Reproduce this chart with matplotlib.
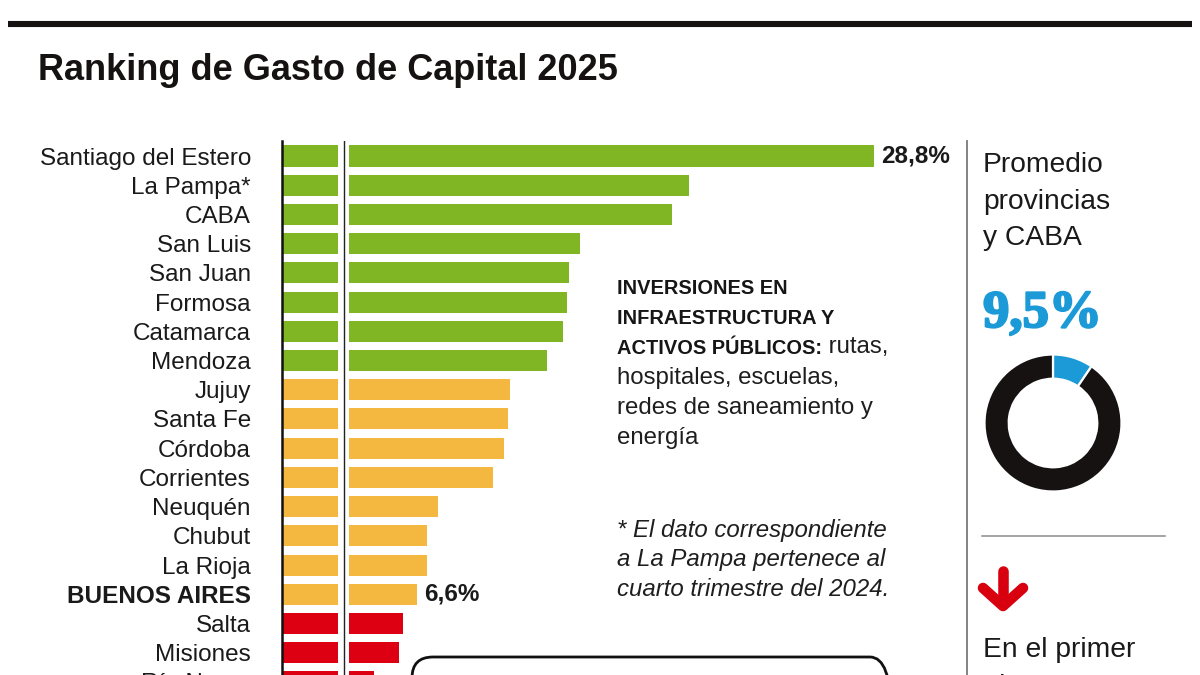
import matplotlib
matplotlib.use("Agg")
import matplotlib.pyplot as plt
import matplotlib.patheffects as pe
from matplotlib.lines import Line2D
from matplotlib.patches import FancyBboxPatch
from matplotlib.transforms import Affine2D

# ---------------- data ----------------
provincias = ["Santiago del Estero", "La Pampa*", "CABA", "San Luis", "San Juan",
              "Formosa", "Catamarca", "Mendoza", "Jujuy", "Santa Fe", "Córdoba",
              "Corrientes", "Neuquén", "Chubut", "La Rioja", "BUENOS AIRES",
              "Salta", "Misiones", "Río Negro"]
gasto = [28.8, 19.8, 19.0, 14.5, 14.0, 13.9, 13.7, 12.9, 11.1, 11.0, 10.8,
         10.3, 7.6, 7.1, 7.1, 6.6, 5.9, 5.7, 4.5]
tramo = ["alto", "alto", "alto", "alto", "alto", "alto", "alto", "alto",
         "medio", "medio", "medio", "medio", "medio", "medio", "medio", "medio",
         "bajo", "bajo", "bajo"]
con_etiqueta = ["Santiago del Estero", "BUENOS AIRES"]
destacada = "BUENOS AIRES"
promedio = 9.5

titulo = "Ranking de Gasto de Capital 2025"
colores_tramo = {"alto": "#80b524", "medio": "#f4b740", "bajo": "#dc0012"}
azul = "#1b9ad7"
negro = "#161212"

# ---------------- figure ----------------
plt.rcParams["font.family"] = ["Liberation Sans", "DejaVu Sans"]
W, H = 1200, 675
fig = plt.figure(figsize=(W / 100, H / 100), dpi=100)
fig.patch.set_facecolor("white")
pix = Affine2D().scale(1 / W, 1 / H) + fig.transFigure  # pixel coords, origin bottom-left


def fy(py):
    return H - py


# top rule
fig.add_artist(Line2D([8, 1192], [fy(23.5), fy(23.5)], transform=pix,
                      color=negro, lw=4.4, solid_capstyle="butt"))
# title
fig.text(38, fy(80), titulo, transform=pix, fontsize=26, fontweight="bold",
         color=negro, ha="left", va="baseline")

# ---------------- bar chart ----------------
zero_px = 281.5
px_per_unit = 20.56
row0 = 156.0
row_h = 29.22
n = len(provincias)
ax_top = row0 - 0.5 * row_h
ax_bot = row0 + (n - 0.5) * row_h
ax_right = 960
ax = fig.add_axes([zero_px / W, (H - ax_bot) / H, (ax_right - zero_px) / W,
                   (ax_bot - ax_top) / H])
ax.set_xlim(0, (ax_right - zero_px) / px_per_unit)
ax.set_ylim(n - 0.5, -0.5)
ypos = list(range(n))
ax.barh(ypos, gasto, height=0.72, color=[colores_tramo[t] for t in tramo], zorder=2)

# scale break decoration
ax.axvspan(2.75, 3.3, color="white", zorder=3, lw=0)
ax.axvline(3.02, color="#222222", lw=1.0, zorder=4)
ax.axvline(0, color="#111111", lw=1.8, zorder=4, clip_on=False)

ax.set_yticks(ypos)
ax.set_yticklabels(provincias, fontsize=17.5, color="#1a1a1a")
ax.tick_params(axis="y", length=0, pad=22)
for lbl in ax.get_yticklabels():
    if lbl.get_text() == destacada:
        lbl.set_fontweight("bold")
ax.set_xticks([])
for s in ax.spines.values():
    s.set_visible(False)

for name, v, y in zip(provincias, gasto, ypos):
    if name in con_etiqueta:
        ax.annotate(f"{v:.1f}%".replace(".", ","), xy=(v, y), xytext=(7, 0),
                    textcoords="offset pixels", va="center", ha="left",
                    fontsize=17.5, fontweight="bold", color="#1a1a1a",
                    annotation_clip=False)

# ---------------- explanatory texts ----------------
tx = 617
fs_b = 14.4
fs_r = 17.3
fig.text(tx, fy(293.5), "INVERSIONES EN", transform=pix, fontsize=fs_b,
         fontweight="bold", color="#161616", va="baseline")
fig.text(tx, fy(323.6), "INFRAESTRUCTURA Y", transform=pix, fontsize=fs_b,
         fontweight="bold", color="#161616", va="baseline")
tb = fig.text(tx, fy(353.8), "ACTIVOS PÚBLICOS:", transform=pix, fontsize=fs_b,
              fontweight="bold", color="#161616", va="baseline")
fig.add_artist(plt.Annotation(" rutas,", xy=(1, 0), xycoords=tb,
                              fontsize=fs_r, color="#1e1e1e", va="bottom",
                              ha="left"))
for k, line in enumerate(["hospitales, escuelas,", "redes de saneamiento y", "energía"]):
    fig.text(tx, fy(384 + 30.1 * k), line, transform=pix, fontsize=fs_r,
             color="#1e1e1e", va="baseline")

for k, line in enumerate(["* El dato correspondiente", "a La Pampa pertenece al",
                          "cuarto trimestre del 2024."]):
    fig.text(tx, fy(536.5 + 29.5 * k), line, transform=pix, fontsize=fs_r,
             fontstyle="italic", color="#1e1e1e", va="baseline")

# ---------------- right panel ----------------
fig.add_artist(Line2D([967, 967], [fy(141), fy(700)], transform=pix,
                      color="#7a7a7a", lw=1.3))
for k, line in enumerate(["Promedio", "provincias", "y CABA"]):
    fig.text(983, fy(172 + 36.6 * k), line, transform=pix, fontsize=20.3,
             color="#1a1a1a", va="baseline")
fig.text(983, fy(327), f"{promedio:.1f}%".replace(".", ","), transform=pix,
         family=["Liberation Serif", "DejaVu Serif"], fontweight="bold",
         fontsize=38, color=azul, va="baseline",
         path_effects=[pe.withStroke(linewidth=1.6, foreground=azul)])

# donut
cx, cy, r_out, r_in = 1053, 423, 68.5, 44.3
dax = fig.add_axes([(cx - r_out) / W, (H - cy - r_out) / H, 2 * r_out / W, 2 * r_out / H])
dax.pie([promedio, 100 - promedio], startangle=90, counterclock=False,
        colors=[azul, negro], radius=1,
        wedgeprops=dict(width=(r_out - r_in) / r_out, edgecolor="white", linewidth=1.6))
dax.set_xlim(-1, 1)
dax.set_ylim(-1, 1)
dax.set_aspect("equal")
dax.axis("off")

fig.add_artist(Line2D([982, 1165], [fy(535.7), fy(535.7)], transform=pix,
                      color="#8a8a8a", lw=1.1))

# red down arrow
rojo = "#d8000f"
fig.add_artist(Line2D([1003, 1003], [fy(571), fy(604)], transform=pix, color=rojo,
                      lw=7.6, solid_capstyle="round"))
fig.add_artist(Line2D([983, 1003, 1023], [fy(588), fy(606), fy(588)], transform=pix,
                      color=rojo, lw=7.6, solid_capstyle="round", solid_joinstyle="round"))

fig.text(983, fy(657), "En el primer", transform=pix, fontsize=20.3,
         color="#1a1a1a", va="baseline")
fig.text(983, fy(693.5), "trimestre", transform=pix, fontsize=20.3,
         color="#1a1a1a", va="baseline")

# bottom rounded box (cut by the edge)
fig.add_artist(FancyBboxPatch((412, -60), 479, 60 + fy(657),
                              boxstyle="round,pad=0,rounding_size=21",
                              transform=pix, facecolor="none",
                              edgecolor="#111111", lw=2.0))

fig.savefig("out.png", dpi=100, facecolor="white")
